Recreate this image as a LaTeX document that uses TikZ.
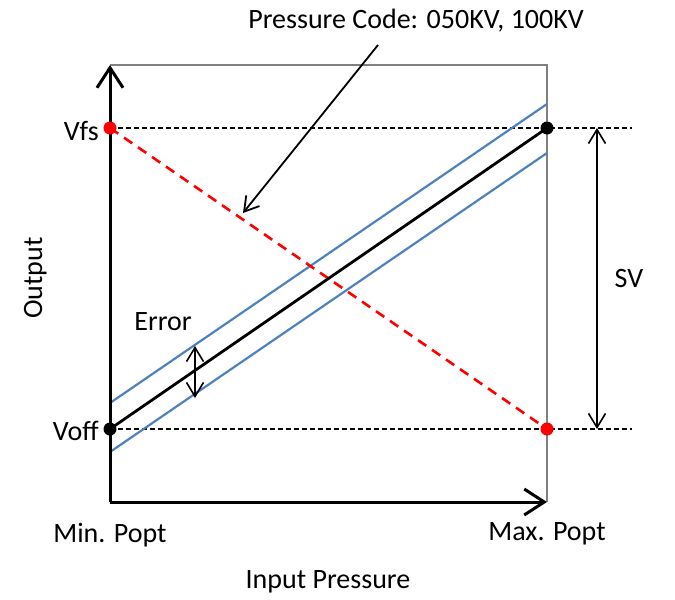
\documentclass[tikz,border=0pt]{standalone}
\usepackage{fontspec}
\setmainfont{Carlito}
\usetikzlibrary{arrows.meta}
\definecolor{offblue}{HTML}{4F81BD}
\definecolor{boxgrey}{HTML}{808080}
\begin{document}
\begin{tikzpicture}[x=1pt,y=-1pt,
  lbl/.style={inner sep=0pt,font=\fontsize{28}{33}\selectfont},
  dotb/.style={circle,fill=black,inner sep=0pt,minimum size=13pt},
  dotr/.style={circle,fill=red,inner sep=0pt,minimum size=13pt},
  axis/.style={line width=3pt,-{Straight Barb[length=20pt,width=26pt,line width=3pt]}},
  smallarr/.style={line width=1.6pt,{Straight Barb[length=14pt,width=17pt,line width=1.6pt]}-{Straight Barb[length=14pt,width=17pt,line width=1.6pt]}},
  guide/.style={line width=1.6pt,dash pattern=on 5pt off 3pt},
  band/.style={offblue,line width=2.2pt},
]
\useasboundingbox (0,0) rectangle (675,600);
% coordinates
\coordinate (O) at (110,502);
\coordinate (Ytop) at (110,65);
\coordinate (Xend) at (547,502);
\coordinate (TR) at (547,65);
\coordinate (gL1) at (632,128);
\coordinate (gL2) at (632,429);
\coordinate (bu1) at (110,403);
\coordinate (bu2) at (547,104);
\coordinate (bl1) at (110,452);
\coordinate (bl2) at (547,153);
\coordinate (sv1) at (597,128);
\coordinate (sv2) at (597,429);
\coordinate (er1) at (195,346);
\coordinate (er2) at (195,398);
\coordinate (pc1) at (378,45);
\coordinate (pc2) at (243,213);
% grey box
\draw[boxgrey,line width=2pt] (Ytop) -- (TR) -- (Xend);
% guide lines
\draw[guide] (110,128) -- (gL1);
\draw[guide] (110,429) -- (gL2);
% bands
\draw[band] (bu1) -- (bu2);
\draw[band] (bl1) -- (bl2);
% red dashed
\draw[red,line width=2.6pt,dash pattern=on 10pt off 7pt] (110,128) -- (547,429);
% main line
\draw[line width=2.8pt] (110,429) -- (547,128);
% axes
\draw[axis] (O) -- (Ytop);
\draw[axis] (O) -- (Xend);
% dots
\node[dotr] (vfsL) at (110,128) {};
\node[dotb] (voffL) at (110,429) {};
\node[dotb] (vfsR) at (547,128) {};
\node[dotr] (voffR) at (547,429) {};
% arrows
\draw[smallarr] (sv1) -- (sv2);
\draw[smallarr] (er1) -- (er2);
\draw[line width=1.8pt,-{Straight Barb[length=14pt,width=17pt,line width=1.8pt]}] (pc1) -- (pc2);
% labels
\node[lbl,anchor=base] (pc) at (416,28) {Pressure Code: 050KV, 100KV};
\node[lbl,anchor=base east] (vfs) at (99,140) {Vfs};
\node[lbl,anchor=base east] (voff) at (99,440) {Voff};
\node[lbl,anchor=base,rotate=90] (out) at (42,278) {Output};
\node[lbl,anchor=base] (err) at (163,330) {Error};
\node[lbl,anchor=base] (sv) at (629,287) {SV};
\node[lbl,anchor=base] (minp) at (110,542) {Min. Popt};
\node[lbl,anchor=base] (maxp) at (547,540) {Max. Popt};
\node[lbl,anchor=base] (inp) at (328,588) {Input Pressure};
\end{tikzpicture}
\end{document}
